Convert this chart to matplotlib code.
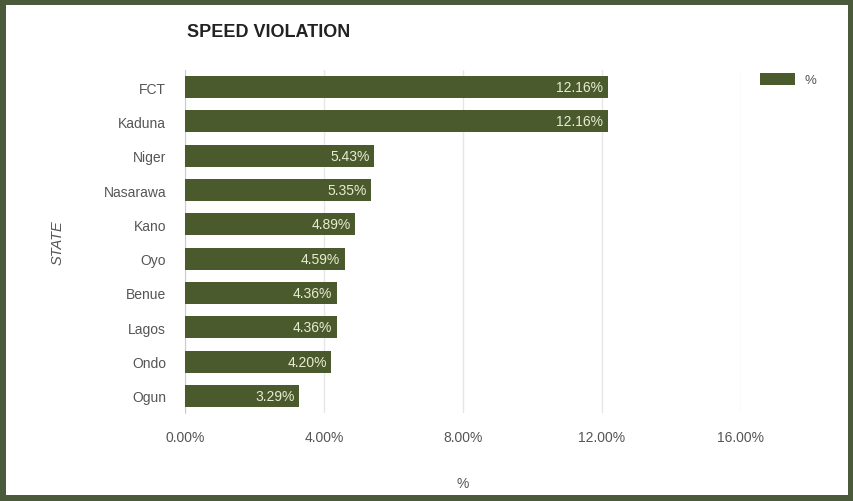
import matplotlib
matplotlib.use("Agg")
import matplotlib.pyplot as plt
from matplotlib.patches import Rectangle

plt.rcParams["font.family"] = ["Liberation Sans", "DejaVu Sans"]

states = ["FCT", "Kaduna", "Niger", "Nasarawa", "Kano", "Oyo", "Benue", "Lagos", "Ondo", "Ogun"]
values = [12.16, 12.16, 5.43, 5.35, 4.89, 4.59, 4.36, 4.36, 4.20, 3.29]
xticks = [0, 4, 8, 12, 16]
xtick_labels = ["0.00%", "4.00%", "8.00%", "12.00%", "16.00%"]

W, H = 854, 502
bar_color = "#4b5a2c"
frame_color = "#4a5a3a"
text_gray = "#555555"

fig = plt.figure(figsize=(W / 100, H / 100), dpi=100)
fig.patch.set_facecolor(frame_color)
fig.patches.append(Rectangle((6 / W, 6 / H), (848 - 6) / W, (496 - 6) / H,
                             transform=fig.transFigure, facecolor="white",
                             edgecolor="none", zorder=-10))

ax = fig.add_axes([185 / W, 1 - 414 / H, (741 - 185) / W, (414 - 71) / H])
ax.set_zorder(1)
ax.set_facecolor("white")
ypos = list(range(len(states)))
bars = ax.barh(ypos, values, height=0.64, color=bar_color, label="%", zorder=3)
ax.set_ylim(len(states) - 0.5, -0.5)
ax.set_xlim(0, 16)
ax.set_yticks(ypos)
ax.set_yticklabels(states, fontsize=10, color=text_gray)
ax.set_xticks(xticks)
ax.set_xticklabels(xtick_labels, fontsize=10, color=text_gray)
ax.tick_params(axis="both", length=0)
ax.tick_params(axis="y", pad=13.5)
ax.tick_params(axis="x", pad=12)
ax.grid(axis="x", color="#e6e6e6", linewidth=1, zorder=0)
for s in ["top", "right", "bottom"]:
    ax.spines[s].set_visible(False)
ax.spines["left"].set_color("#cccccc")

for b, v in zip(bars, values):
    ax.text(v - 0.12, b.get_y() + b.get_height() / 2, f"{v:.2f}%",
            ha="right", va="center", fontsize=10, color="#e8ecd2", zorder=4)

ax.set_ylabel("STATE", fontsize=10.5, color=text_gray, style="italic", labelpad=28)
ax.set_xlabel("%", fontsize=10, color=text_gray, labelpad=23)

fig.text(187 / W, 1 - 33 / H, "SPEED VIOLATION", fontsize=13, fontweight="bold",
         color="#222222", ha="left", va="center")

leg = ax.legend(loc="upper left", bbox_to_anchor=(748 / W, 1 - 62 / H),
                bbox_transform=fig.transFigure, frameon=False, fontsize=9.5,
                handlelength=2.7, handleheight=1.0, handletextpad=0.7)
for t in leg.get_texts():
    t.set_color(text_gray)

fig.savefig("out.png", dpi=100, facecolor=fig.get_facecolor())
